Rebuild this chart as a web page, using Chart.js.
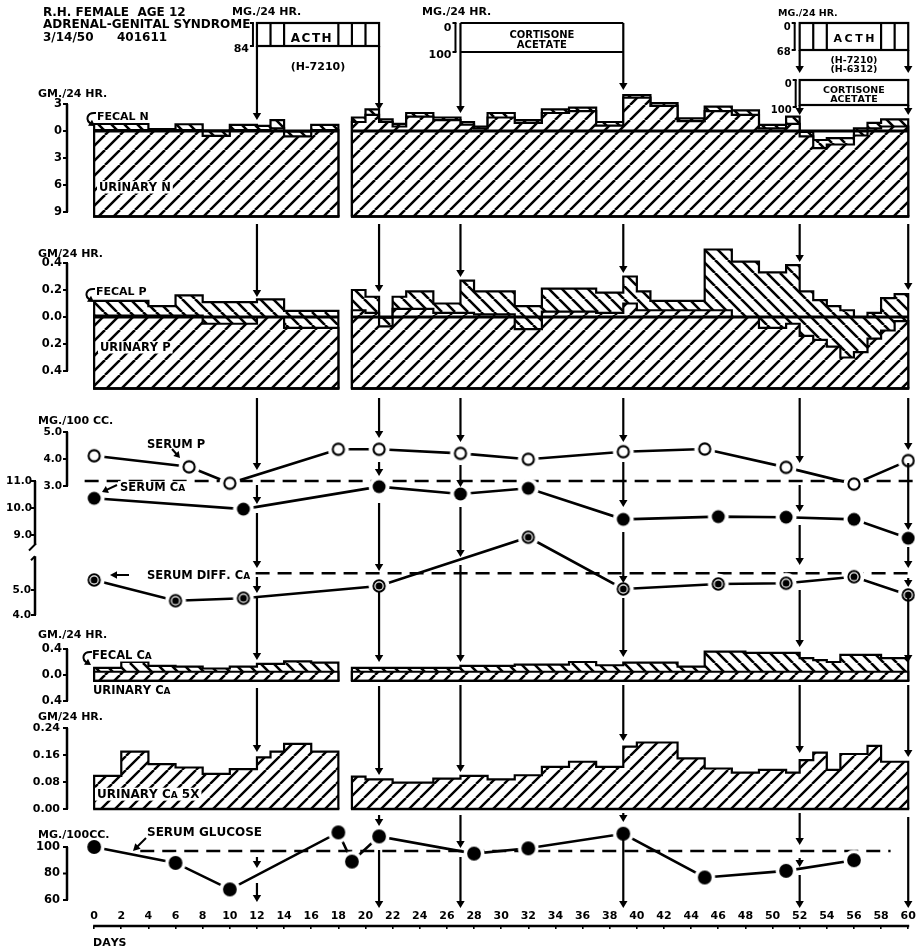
<!DOCTYPE html>
<html>
<head>
<meta charset="utf-8">
<title>R.H. female, age 12 – adrenal-genital syndrome – metabolic balance</title>
<style>
html,body{margin:0;padding:0;background:#fff;overflow:hidden;}
#c{display:block;}
</style>
<script src="https://cdn.jsdelivr.net/npm/chart.js@4.4.1/dist/chart.umd.min.js"></script>
</head>
<body>
<canvas id="c" width="916" height="948"></canvas>
<script>
// ================= DATA =================
const treatmentDays = [12, 21, 27, 39, 52, 60];
const dayTicks = [0,2,4,6,8,10,12,14,16,18,20,22,24,26,28,30,32,34,36,38,40,42,44,46,48,50,52,54,56,58,60];

// Nitrogen, GM./24 HR. (periods: bounds in days; levels of the tops of the urinary and fecal areas)
const nBoundsA  = [0, 4, 6, 8, 10, 12, 13, 14, 16, 18];
const nUrinaryA = [0.1, 0.05, 0.1, -0.55, 0.1, 0.1, 0.3, -0.6, 0.1];
const nFecalA   = [0.78, 0.2, 0.75, 0.05, 0.67, 0.56, 1.2, -0.05, 0.67];
const nBoundsB  = [19,20,21,22,23,25,27,28,29,31,33,35,37,39,41,43,45,47,49,51,52,53,54,56,57,58,60];
const nUrinaryB = [1.0,1.8,1.0,0.5,1.6,1.2,0.7,0.3,1.5,0.9,2.0,2.2,0.6,3.7,2.8,1.1,2.2,1.8,0.3,0.8,-0.6,-1.9,-1.5,-0.5,0.3,0.5];
const nFecalB   = [1.5,2.4,1.3,0.8,2.0,1.5,1.0,0.5,2.0,1.2,2.4,2.6,1.0,4.0,3.1,1.4,2.7,2.3,0.67,1.6,-0.1,-1.0,-0.8,0.3,0.9,1.3];
const nIntake   = -9.5;

// Phosphorus, GM./24 HR.
const pBoundsA  = [0, 4, 6, 8, 12, 14, 18];
const pUrinaryA = [0.01, 0.01, 0.01, -0.05, 0.0, -0.08];
const pFecalA   = [0.12, 0.08, 0.16, 0.11, 0.13, 0.045];
const pBoundsB  = [19,20,21,22,23,25,27,28,31,33,35,37,39,40,41,45,47,49,51,52,53,54,55,56,57,58,59,60];
const pUrinaryB = [0.05,0.03,-0.07,0.06,0.06,0.03,0.03,0.02,-0.09,0.04,0.04,0.03,0.1,0.05,0.05,0.05,0.0,-0.08,-0.05,-0.14,-0.17,-0.22,-0.3,-0.26,-0.16,-0.1,-0.03];
const pFecalB   = [0.2,0.15,-0.005,0.15,0.19,0.1,0.27,0.19,0.08,0.21,0.21,0.18,0.3,0.19,0.12,0.5,0.41,0.33,0.385,0.19,0.125,0.08,0.05,0.0,0.03,0.14,0.17];
const pIntake   = -0.53;

// Calcium, GM./24 HR. (fecal / urinary)
const caBoundsA  = [0,2,4,6,8,10,12,14,16,18];
const caUrinaryA = [0.05,0.05,0.05,0.05,0.05,0.05,0.05,0.05,0.05];
const caFecalA   = [0.11,0.2,0.14,0.13,0.1,0.13,0.17,0.21,0.19];
const caBoundsB  = [19,27,31,35,37,39,43,45,48,52,53,54,55,58,60];
const caUrinaryB = [0.05,0.05,0.05,0.05,0.05,0.05,0.05,0.05,0.05,0.05,0.05,0.05,0.05,0.05];
const caFecalB   = [0.11,0.14,0.16,0.2,0.15,0.19,0.13,0.36,0.34,0.26,0.23,0.2,0.31,0.26];
const caIntake   = -0.09;

// Urinary Ca 5X, GM./24 HR.
const u5BoundsA = [0,2,4,6,8,10,12,13,14,16,18];
const u5ValsA   = [0.098,0.17,0.133,0.123,0.104,0.118,0.153,0.17,0.193,0.17];
const u5BoundsB = [19,20,22,25,27,29,31,33,35,37,39,40,43,45,47,49,51,52,53,54,55,57,58,60];
const u5ValsB   = [0.096,0.088,0.078,0.09,0.098,0.088,0.10,0.125,0.14,0.125,0.185,0.197,0.15,0.12,0.108,0.116,0.108,0.145,0.167,0.116,0.163,0.187,0.14];

// Serum values, MG./100 CC.
const serumPDays   = [0, 7, 10, 18, 21, 27, 32, 39, 45, 51, 56, 60];
const serumPVals   = [4.12, 3.71, 3.1, 4.36, 4.36, 4.21, 3.99, 4.27, 4.37, 3.69, 3.07, 3.94];
const serumCaDays  = [0, 11, 21, 27, 32, 39, 46, 51, 56, 60];
const serumCaVals  = [10.36, 9.96, 10.79, 10.52, 10.73, 9.58, 9.68, 9.66, 9.58, 8.88];
const diffCaDays   = [0, 6, 11, 21, 32, 39, 46, 51, 56, 60];
const diffCaVals   = [5.4, 4.57, 4.67, 5.16, 7.11, 5.04, 5.24, 5.27, 5.53, 4.8];
const glucoseDays  = [0, 6, 10, 18, 19, 21, 28, 32, 39, 45, 51, 56];
const glucoseVals  = [100, 88, 68, 111, 89, 108, 95, 99, 110, 77, 82, 90];

// normal reference levels (dashed) and the days they span
const caNormal = 11.0,      caNormalSpan = [-0.7, 60.7];
const diffCaNormal = 5.67,  diffCaNormalSpan = [11.9, 60.7];
const glucoseNormal = 97,   glucoseNormalSpan = [3.4, 58.7];

// axis tick labels
const nTicks = [3, 0, -3, -6, -9];
const pTicks = [0.4, 0.2, 0, -0.2, -0.4];
const serumPTicks = [5, 4, 3];
const serumCaTicks = [11, 10, 9];
const diffCaTicks = [5, 4];
const fecalCaTicks = [0.4, 0, -0.4];
const u5Ticks = [0.24, 0.16, 0.08, 0];
const glucoseTicks = [100, 80, 60];

// ================= LAYOUT / STYLE =================
const FONT = '"DejaVu Sans", "Liberation Sans", Arial, sans-serif';
Chart.defaults.font.family = FONT;
Chart.defaults.color = '#000';
const AREA_LEFT = 67, AREA_BOTTOM = 926;
// a panel band: value v0 sits at vertical pixel p0, k pixels per unit
function band(v0, p0, k) { return {min: v0 - (AREA_BOTTOM - p0) / k, max: v0 + p0 / k}; }

const canvas = document.getElementById('c');
const ctx0 = canvas.getContext('2d');

function hatch(size, dir, lw) {
  const c = document.createElement('canvas'); c.width = c.height = size;
  const g = c.getContext('2d');
  g.fillStyle = '#fff'; g.fillRect(0, 0, size, size);
  g.strokeStyle = '#000'; g.lineWidth = lw;
  g.beginPath();
  for (let k = -1; k <= 1; k++) {
    if (dir > 0) { g.moveTo(k * size, size); g.lineTo(k * size + size, 0); }
    else { g.moveTo(k * size, 0); g.lineTo(k * size + size, size); }
  }
  g.stroke();
  return ctx0.createPattern(c, 'repeat');
}
const patUrine = hatch(15, 1, 2.5);
const patFeces = hatch(13, -1, 2.6);
const patU5 = hatch(14, 1, 2.4);

function pointImg(kind) {
  const s = 26, m = s / 2, c = document.createElement('canvas'); c.width = c.height = s;
  const g = c.getContext('2d');
  g.fillStyle = '#fff'; g.beginPath(); g.arc(m, m, 10.5, 0, 2 * Math.PI); g.fill();
  g.fillStyle = '#000'; g.strokeStyle = '#000';
  if (kind === 'open') { g.lineWidth = 2.1; g.beginPath(); g.arc(m, m, 5.6, 0, 2 * Math.PI); g.stroke(); }
  if (kind === 'solid') { g.beginPath(); g.arc(m, m, 6.5, 0, 2 * Math.PI); g.fill(); }
  if (kind === 'bull') {
    g.lineWidth = 1.9; g.beginPath(); g.arc(m, m, 5.7, 0, 2 * Math.PI); g.stroke();
    g.beginPath(); g.arc(m, m, 3.5, 0, 2 * Math.PI); g.fill();
  }
  if (kind === 'big') { g.beginPath(); g.arc(m, m, 6.9, 0, 2 * Math.PI); g.fill(); }
  return c;
}

function steps(bounds, vals, base) {
  const pts = [{x: bounds[0], y: base}];
  vals.forEach((v, i) => pts.push({x: bounds[i], y: v}));
  pts.push({x: bounds[bounds.length - 1], y: vals[vals.length - 1]});
  pts.push({x: bounds[bounds.length - 1], y: base});
  return pts;
}
function area(label, axis, bounds, vals, base, pattern) {
  return {label, yAxisID: axis, data: steps(bounds, vals, base), stepped: true,
    fill: {value: base}, backgroundColor: pattern, borderColor: '#000', borderWidth: 2.2,
    pointRadius: 0, baseOutline: base};
}
function series(label, axis, days, vals, img) {
  return {label, yAxisID: axis, data: days.map((x, i) => ({x, y: vals[i]})),
    borderColor: '#000', borderWidth: 2.6, pointStyle: img, pointRadius: 10, fill: false, tension: 0};
}
function normal(label, axis, span, v) {
  return {label, yAxisID: axis, data: [{x: span[0], y: v}, {x: span[1], y: v}],
    borderColor: '#000', borderWidth: 2.6, borderDash: [14, 8], pointRadius: 0, fill: false};
}

const datasets = [
  series('Serum P', 'ySP', serumPDays, serumPVals, pointImg('open')),
  series('Serum Ca', 'yCa', serumCaDays, serumCaVals, pointImg('solid')),
  series('Serum diff. Ca', 'yDiff', diffCaDays, diffCaVals, pointImg('bull')),
  series('Serum glucose', 'yG', glucoseDays, glucoseVals, pointImg('big')),
  area('Urinary N', 'yN', nBoundsA, nUrinaryA, nIntake, patUrine),
  area('Fecal N', 'yN', nBoundsA, nFecalA, nIntake, patFeces),
  area('Urinary N', 'yN', nBoundsB, nUrinaryB, nIntake, patUrine),
  area('Fecal N', 'yN', nBoundsB, nFecalB, nIntake, patFeces),
  area('Urinary P', 'yP', pBoundsA, pUrinaryA, pIntake, patUrine),
  area('Fecal P', 'yP', pBoundsA, pFecalA, pIntake, patFeces),
  area('Urinary P', 'yP', pBoundsB, pUrinaryB, pIntake, patUrine),
  area('Fecal P', 'yP', pBoundsB, pFecalB, pIntake, patFeces),
  area('Urinary Ca', 'yFCa', caBoundsA, caUrinaryA, caIntake, patUrine),
  area('Fecal Ca', 'yFCa', caBoundsA, caFecalA, caIntake, patFeces),
  area('Urinary Ca', 'yFCa', caBoundsB, caUrinaryB, caIntake, patUrine),
  area('Fecal Ca', 'yFCa', caBoundsB, caFecalB, caIntake, patFeces),
  area('Urinary Ca 5X', 'yU5', u5BoundsA, u5ValsA, 0, patU5),
  area('Urinary Ca 5X', 'yU5', u5BoundsB, u5ValsB, 0, patU5),
  normal('Serum Ca normal', 'yCa', caNormalSpan, caNormal),
  normal('Serum diff. Ca normal', 'yDiff', diffCaNormalSpan, diffCaNormal),
  normal('Serum glucose normal', 'yG', glucoseNormalSpan, glucoseNormal),
];

function yAxis(b, ticks, fmt, pad, size) {
  return {
    type: 'linear', position: 'left', min: b.min, max: b.max,
    grid: {display: false, drawTicks: false}, border: {display: false},
    ticks: {autoSkip: false, padding: pad, color: '#000', font: {family: FONT, size, weight: 'bold'},
      callback: (v) => fmt(v)},
    afterBuildTicks: s => { s.ticks = ticks.map(value => ({value})); },
    afterFit: s => { s.width = 0; s.paddingTop = 0; s.paddingBottom = 0; }
  };
}
const scales = {
  x: {
    type: 'linear', position: 'bottom', min: -2, max: 60.5,
    grid: {display: true, drawOnChartArea: false, drawTicks: true, tickLength: 3, color: '#000', lineWidth: 1.6},
    border: {display: false},
    ticks: {mirror: true, padding: 3, autoSkip: false, maxRotation: 0, color: '#000',
      font: {family: FONT, size: 11, weight: 'bold'}, callback: v => String(v)},
    afterBuildTicks: s => { s.ticks = dayTicks.map(value => ({value})); },
    afterFit: s => { s.height = 948 - AREA_BOTTOM; s.paddingLeft = 0; s.paddingRight = 0; }
  },
  yN: yAxis(band(0, 131, 9), nTicks, v => String(Math.abs(v)), 5, 11.5),
  yP: yAxis(band(0, 317, 135), pTicks, v => Math.abs(v).toFixed(1), 5, 11.5),
  ySP: yAxis(band(4, 459, 27), serumPTicks, v => v.toFixed(1), 5, 10.5),
  yCa: yAxis(band(11, 481, 27), serumCaTicks, v => v.toFixed(1), 35, 10.5),
  yDiff: yAxis(band(5, 590, 25), diffCaTicks, v => v.toFixed(1), 36, 10.5),
  yFCa: yAxis(band(0, 675, 65), fecalCaTicks, v => Math.abs(v).toFixed(1), 5, 11.5),
  yU5: yAxis(band(0, 809, 337.5), u5Ticks, v => v.toFixed(2), 7, 11),
  yG: yAxis(band(100, 847, 1.325), glucoseTicks, v => String(v), 7, 11.5),
  yPage: {type: 'linear', display: false, min: 0, max: AREA_BOTTOM, reverse: true}
};

// ---- annotation geometry (not data) ----
const axisBrackets = [
  {axis: 'yN', x: 67, from: 3, to: -9},
  {axis: 'yP', x: 67, from: 0.4, to: -0.4},
  {axis: 'ySP', x: 67, from: 5, to: 3},
  {axis: 'yCa', x: 35, from: 11, to: 8.65, brk: true},
  {axis: 'yDiff', x: 35, from: 6.35, to: 4, hook: true},
  {axis: 'yFCa', x: 67, from: 0.4, to: -0.4},
  {axis: 'yU5', x: 67, from: 0.24, to: 0},
  {axis: 'yG', x: 67, from: 100, to: 60},
];
const zeroLines = [['yN', nBoundsA], ['yN', nBoundsB], ['yP', pBoundsA], ['yP', pBoundsB]];
// vertical arrow runs (page y) for each treatment day
const arrowRuns = [
  [[46,120],[224,297],[398,470],[485,504],[513,568],[577,593],[597,660],[688,752],[857,868],[883,902]],
  [[46,110],[224,292],[398,438],[462,476],[503,571],[592,662],[686,775],[815,826],[850,908]],
  [[23,113],[224,277],[398,442],[465,487],[507,557],[565,662],[685,772],[815,848],[857,908]],
  [[23,90],[224,273],[398,442],[462,507],[532,583],[598,657],[685,741],[813,822],[838,908]],
  [[50,73],[105,115],[224,262],[398,463],[485,512],[525,565],[590,647],[685,753],[813,845],[858,867],[875,908]],
  [[50,73],[105,115],[224,290],[398,450],[463,530],[547,568],[578,587],[592,662],[685,757],[817,908]],
];
const acthDividers1 = [13, 14, 18, 19, 20];
const acthDividers2 = [53, 54, 58, 59];
// [text, x, baseline, size, whiteBackground]  (lower-case letters are set as small capitals)
const notes = [
  ['R.H. FEMALE  AGE 12', 43, 16, 12],
  ['ADRENAL-GENITAL SYNDROME', 43, 28, 12],
  ['3/14/50', 43, 41, 12], ['401611', 117, 41, 12],
  ['GM./24 HR.', 38, 97, 11],
  ['FECAL N', 97, 120, 11, true],
  ['URINARY N', 99, 191, 11.5, true],
  ['GM/24 HR.', 38, 257, 11],
  ['FECAL P', 96, 295, 11, true],
  ['URINARY P', 100, 351, 11.5, true],
  ['MG./100 CC.', 38, 424, 11],
  ['SERUM P', 147, 448, 11.5, true],
  ['SERUM Ca', 120, 491, 11.5, true],
  ['SERUM DIFF. Ca', 147, 579, 11.5, true],
  ['GM./24 HR.', 38, 638, 11],
  ['FECAL Ca', 92, 659, 11.5, true],
  ['URINARY Ca', 93, 694, 11.5, true],
  ['GM/24 HR.', 38, 720, 11],
  ['URINARY Ca 5X', 97, 798, 12, true],
  ['MG./100CC.', 38, 838, 11],
  ['SERUM GLUCOSE', 147, 836, 12, true],
  ['DAYS', 93, 946, 11],
];

function line(c, x1, y1, x2, y2) { c.beginPath(); c.moveTo(x1, y1); c.lineTo(x2, y2); c.stroke(); }
function head(c, x, y, a, L = 7, W = 4.2) {
  const cs = Math.cos(a), sn = Math.sin(a);
  c.beginPath(); c.moveTo(x, y);
  c.lineTo(x - L * cs + W * sn, y - L * sn - W * cs);
  c.lineTo(x - L * cs - W * sn, y - L * sn + W * cs);
  c.closePath(); c.fill();
}
function arrow(c, x1, y1, x2, y2, L = 7, W = 4.2) {
  const a = Math.atan2(y2 - y1, x2 - x1);
  line(c, x1, y1, x2 - (L - 1) * Math.cos(a), y2 - (L - 1) * Math.sin(a));
  head(c, x2, y2, a, L, W);
}
function hook(c, x, y) {
  c.beginPath(); c.moveTo(x, y); c.bezierCurveTo(x - 10, y - 1, x - 11, y + 8, x - 4, y + 11); c.stroke();
  head(c, x - 1, y + 13, Math.atan2(2, 3), 6, 3.6);
}
function text(c, str, x, y, size, opt = {}) {
  const big = `bold ${size}px ${FONT}`, small = `bold ${Math.round(size * 0.78)}px ${FONT}`;
  const parts = []; let w = 0; const sp = opt.spacing || 0;
  for (const ch of str) {
    const low = ch !== ch.toUpperCase();
    c.font = low ? small : big;
    const t = low ? ch.toUpperCase() : ch;
    const cw = c.measureText(t).width;
    parts.push([t, c.font, cw]); w += cw + sp;
  }
  w -= sp;
  let x0 = opt.align === 'center' ? x - w / 2 : opt.align === 'right' ? x - w : x;
  if (opt.bg) { c.fillStyle = '#fff'; c.fillRect(x0 - 2, y - size * 0.86, w + 4, size * 1.08); }
  c.fillStyle = '#000'; c.textAlign = 'left'; c.textBaseline = 'alphabetic';
  for (const [t, f, cw] of parts) { c.font = f; c.fillText(t, x0, y); x0 += cw + sp; }
}
function bracket(c, x, y1, y2) {
  line(c, x, y1, x, y2); line(c, x - 3, y1, x + 1, y1); line(c, x - 3, y2, x + 1, y2);
}

const axisShift = {
  id: 'axisShift',
  afterLayout(chart) {
    const L = chart.chartArea.left;
    for (const s of Object.values(chart.scales)) {
      if (s.axis === 'y' && s.options.display) { s.left = 0; s.right = L; s.width = L; }
    }
  }
};

const decor = {
  id: 'decor',
  afterDraw(chart) {
    const c = chart.ctx, sx = chart.scales.x, sp = chart.scales.yPage;
    const X = d => sx.getPixelForValue(d);
    const Y = v => sp.getPixelForValue(v);
    const V = (axis, v) => chart.scales[axis].getPixelForValue(v);
    c.save();
    c.strokeStyle = '#000'; c.fillStyle = '#000'; c.lineCap = 'butt';

    // bottom edges of the balance areas
    c.lineWidth = 2.4;
    chart.data.datasets.forEach(d => {
      if (d.baseOutline === undefined) return;
      const y = V(d.yAxisID, d.baseOutline);
      line(c, X(d.data[0].x) - 1, y, X(d.data[d.data.length - 1].x) + 1, y);
    });
    // heavy zero lines
    c.lineWidth = 3;
    zeroLines.forEach(([axis, b]) => { const y = V(axis, 0); line(c, X(b[0]), y, X(b[b.length - 1]), y); });

    // y-axis brackets with tick marks
    axisBrackets.forEach(b => {
      const s = chart.scales[b.axis];
      const y1 = s.getPixelForValue(b.from), y2 = s.getPixelForValue(b.to);
      c.lineWidth = 2.5; line(c, b.x, y1, b.x, y2);
      c.lineWidth = 2;
      s.ticks.forEach(t => { const y = s.getPixelForValue(t.value); line(c, b.x - 4, y, b.x + 1, y); });
      if (b.brk) line(c, b.x + 1, y2 - 1, b.x - 6, y2 + 6);
      if (b.hook) line(c, b.x, y1, b.x - 4, y1 + 4);
    });

    // days axis line
    c.lineWidth = 2.5;
    line(c, X(dayTicks[0]) - 1, chart.chartArea.bottom, X(dayTicks[dayTicks.length - 1]) + 1, chart.chartArea.bottom);

    // treatment boxes at the top
    const [d12, d21, d27, d39, d52, d60] = treatmentDays;
    c.lineWidth = 2.2;
    c.strokeRect(X(d12), Y(23), X(d21) - X(d12), Y(46) - Y(23));
    acthDividers1.forEach(d => line(c, X(d), Y(23), X(d), Y(46)));
    c.fillStyle = '#fff'; c.fillRect(X(14) + 2, Y(25), X(18) - X(14) - 4, 19); c.fillStyle = '#000';
    text(c, 'ACTH', X(16), Y(42), 12, {align: 'center', spacing: 1.5});
    text(c, '(H-7210)', X(16.5), Y(70), 11, {align: 'center'});
    line(c, X(d27), Y(23), X(d39), Y(23));
    line(c, X(d27), Y(52), X(d39), Y(52));
    text(c, 'CORTISONE', X(33), Y(38), 10, {align: 'center'});
    text(c, 'ACETATE', X(33), Y(48), 10, {align: 'center'});
    c.strokeRect(X(d52), Y(23), X(d60) - X(d52), Y(50) - Y(23));
    acthDividers2.forEach(d => line(c, X(d), Y(23), X(d), Y(50)));
    c.fillStyle = '#fff'; c.fillRect(X(54) + 2, Y(25), X(58) - X(54) - 4, 19); c.fillStyle = '#000';
    text(c, 'ACTH', X(56), Y(42), 11, {align: 'center', spacing: 2.5});
    text(c, '(H-7210)', X(56), Y(63), 9.5, {align: 'center'});
    text(c, '(H-6312)', X(56), Y(72), 9.5, {align: 'center'});
    c.strokeRect(X(d52), Y(80), X(d60) - X(d52), Y(105) - Y(80));
    text(c, 'CORTISONE', X(56), Y(93), 9.5, {align: 'center'});
    text(c, 'ACETATE', X(56), Y(102), 9.5, {align: 'center'});

    // dose scales beside the boxes
    c.lineWidth = 2;
    bracket(c, X(d12) - 4, Y(23), Y(46));
    text(c, 'MG./24 HR.', 232, Y(15), 11);
    text(c, '84', X(d12) - 8, Y(52), 11, {align: 'right'});
    bracket(c, X(d27) - 5, Y(23), Y(52));
    text(c, 'MG./24 HR.', 422, Y(15), 11);
    text(c, '0', X(d27) - 9, Y(31), 11, {align: 'right'});
    text(c, '100', X(d27) - 9, Y(58), 11, {align: 'right'});
    bracket(c, X(d52) - 5, Y(23), Y(50));
    text(c, 'MG./24 HR.', 778, Y(16), 9.5);
    text(c, '0', X(d52) - 9, Y(30), 10, {align: 'right'});
    text(c, '68', X(d52) - 9, Y(55), 10, {align: 'right'});
    bracket(c, X(d52) - 4, Y(80), Y(107));
    text(c, '0', X(d52) - 8, Y(87), 10, {align: 'right'});
    text(c, '100', X(d52) - 8, Y(113), 10, {align: 'right'});

    // treatment arrows through all panels
    c.lineWidth = 2.2;
    treatmentDays.forEach((d, i) => {
      arrowRuns[i].forEach(([a, b]) => arrow(c, X(d), Y(a), X(d), Y(b)));
    });

    // labels
    notes.forEach(([t, x, y, s, bg]) => text(c, t, x, Y(y), s, {bg}));
    c.lineWidth = 2;
    hook(c, 96, Y(113));
    hook(c, 95, Y(289));
    hook(c, 92, Y(652));
    arrow(c, 172, Y(449), 180, Y(458), 6, 3.6);
    arrow(c, 117, Y(485), 102, Y(492), 6, 3.8);
    arrow(c, 129, Y(575), 110, Y(575), 7, 3.8);
    arrow(c, 146, Y(838), 133, Y(851), 7, 3.8);
    c.restore();
  }
};

new Chart(ctx0, {
  type: 'line',
  data: {datasets},
  options: {
    responsive: false,
    animation: false,
    events: [],
    layout: {autoPadding: false, padding: {left: AREA_LEFT, right: 1, top: 0, bottom: 0}},
    plugins: {legend: {display: false}, tooltip: {enabled: false}, title: {display: false}},
    elements: {line: {tension: 0}},
    scales
  },
  plugins: [axisShift, decor]
});
</script>
</body>
</html>
